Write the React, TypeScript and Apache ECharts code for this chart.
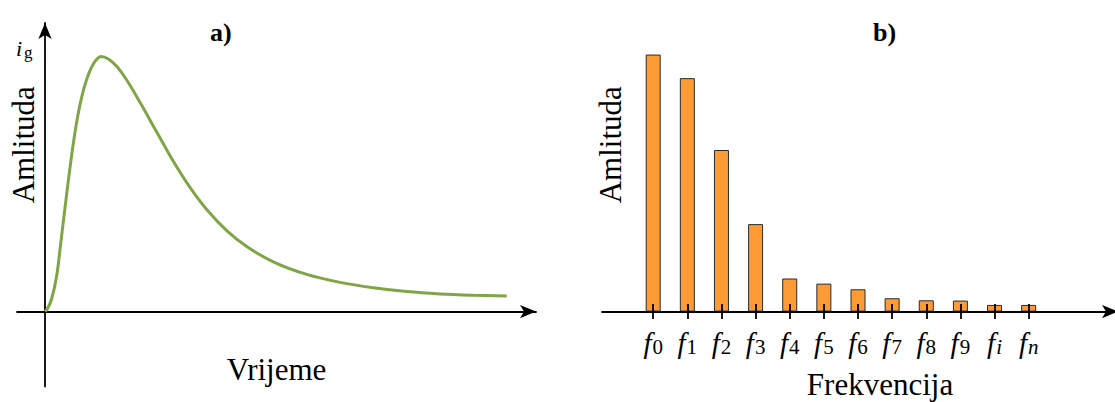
import React, { useEffect, useRef } from 'react';
import * as echarts from 'echarts';

// Panel a) — impulse current (time in arbitrary units, amplitude in % of peak scale)
const timeValues = [0, 0.6, 1.34, 2.34, 3.14, 4.0, 4.86, 5.66, 6.46, 7.34, 8.34, 9.66, 11.2, 12.66, 14.34, 16.34, 19.0, 22.34, 25.66, 29.0, 32.34, 36.34, 40.34, 45.66, 52.34, 59.0, 65.66, 72.34, 79.0, 85.66, 92.34];
const currentValues = [0, 1.5, 5.0, 14.0, 26.5, 40.5, 54.0, 65.5, 75.3, 83.6, 90.5, 96.5, 99.4, 98.5, 95.6, 90.3, 81.6, 70.0, 58.6, 48.4, 39.8, 31.6, 25.4, 19.4, 14.5, 11.4, 9.3, 7.8, 6.9, 6.4, 6.1];

// Panel b) — spectrum
const freqCategories = ['f0', 'f1', 'f2', 'f3', 'f4', 'f5', 'f6', 'f7', 'f8', 'f9', 'fi', 'fn'];
const freqAmplitudes = [100.2, 91.0, 63.0, 34.1, 12.9, 10.9, 8.7, 5.2, 4.4, 4.3, 2.6, 2.6];

const panelTitles = ['a)', 'b)'];
const yAxisName = 'Amlituda';
const timeAxisName = 'Vrijeme';
const freqAxisName = 'Frekvencija';

const serif = "'Liberation Serif', 'Times New Roman', 'DejaVu Serif', serif";
const axisLine = { color: '#000', width: 1.8 };
const arrowSize = [10, 16];

// axis placement inside the grids (where the zero lines cross)
const xAxisLift = -74.9; // bottom x-axes moved up to y = 0
const yAxisShiftLeft = -28; // left y-axis moved right to x = 0
const yAxisShiftRight = -25.7;
const topTickAxisShift = -288.6;

export default function App() {
  const ref = useRef<HTMLDivElement>(null);

  useEffect(() => {
    if (!ref.current) return;
    const chart = echarts.init(ref.current, null, { renderer: 'svg' });

    const axisCats = [' ', ...freqCategories, '  ', '   '];
    const isBlank = (v: string) => String(v).trim() === '';

    const tickCommon = {
      show: true,
      alignWithLabel: true,
      interval: (_i: number, v: string) => !isBlank(v),
      length: 7.5,
      lineStyle: { color: '#000', width: 1.8 },
    };

    const nameStyle = { fontFamily: serif, fontSize: 31, color: '#000' };

    const option: any = {
      animation: false,
      backgroundColor: '#ffffff',
      title: [
        { text: panelTitles[0], left: 210, top: 19, padding: 0, textStyle: { fontFamily: serif, fontWeight: 'bold', fontSize: 26, color: '#000' } },
        { text: panelTitles[1], left: 873, top: 19, padding: 0, textStyle: { fontFamily: serif, fontWeight: 'bold', fontSize: 26, color: '#000' } },
      ],
      grid: [
        { left: 17, top: 23, width: 519, height: 363.5, outerBoundsMode: 'none', containLabel: false },
        { left: 602, top: 23, width: 512, height: 363.5, outerBoundsMode: 'none', containLabel: false },
      ],
      xAxis: [
        {
          gridIndex: 0, type: 'value', min: -5.6, max: 98.2, position: 'bottom', offset: xAxisLift,
          axisLine: { onZero: false, symbol: ['none', 'arrow'], symbolSize: arrowSize, lineStyle: axisLine },
          axisTick: { show: false }, axisLabel: { show: false }, splitLine: { show: false },
          name: timeAxisName, nameLocation: 'middle', nameGap: 42, nameTextStyle: nameStyle,
        },
        {
          gridIndex: 1, type: 'category', data: axisCats, boundaryGap: true, z: 5, position: 'bottom', offset: xAxisLift,
          axisLine: { onZero: false, symbol: ['none', 'arrow'], symbolSize: arrowSize, symbolOffset: [0, 4], lineStyle: axisLine },
          axisTick: tickCommon,
          axisLabel: {
            interval: 0, margin: 17,
            formatter: (v: string) => {
              if (isBlank(v)) return '';
              const sub = v.slice(1);
              return `{f|${v[0]}}{${/\d/.test(sub) ? 'd' : 'n'}|${sub}}`;
            },
            rich: {
              f: { fontFamily: serif, fontStyle: 'italic', fontSize: 29, color: '#000' },
              d: { fontFamily: serif, fontSize: 21, color: '#000', padding: [8, 0, 0, 1] },
              n: { fontFamily: serif, fontStyle: 'italic', fontSize: 21, color: '#000', padding: [8, 0, 0, 1] },
            },
          },
          splitLine: { show: false },
          name: freqAxisName, nameLocation: 'middle', nameGap: 57,
          nameTextStyle: { ...nameStyle, padding: [0, 0, 0, 44] },
        },
        {
          gridIndex: 1, type: 'category', data: axisCats, boundaryGap: true, position: 'top', z: 5, offset: topTickAxisShift,
          axisLine: { show: false, onZero: false },
          axisTick: tickCommon,
          axisLabel: { show: false }, splitLine: { show: false },
        },
      ],
      yAxis: [
        {
          gridIndex: 0, type: 'value', min: -29.2, max: 112.5, position: 'left', offset: yAxisShiftLeft,
          axisLine: { onZero: false, symbol: ['none', 'arrow'], symbolSize: arrowSize, lineStyle: axisLine },
          axisTick: { show: false }, axisLabel: { show: false }, splitLine: { show: false },
          name: yAxisName, nameLocation: 'middle', nameRotate: 90, nameGap: 6,
          nameTextStyle: { ...nameStyle, padding: [0, 0, 0, 120] },
        },
        {
          gridIndex: 1, type: 'value', min: -29.2, max: 112.5, position: 'left', offset: yAxisShiftRight,
          axisLine: { onZero: false, symbol: ['none', 'arrow'], symbolSize: arrowSize, lineStyle: axisLine },
          axisTick: { show: false }, axisLabel: { show: false }, splitLine: { show: false },
          name: yAxisName, nameLocation: 'middle', nameRotate: 90, nameGap: 2,
          nameTextStyle: { ...nameStyle, padding: [0, 0, 0, 120] },
        },
      ],
      graphic: [
        {
          type: 'text', left: 16, top: 37,
          style: {
            text: '{i|i}{g|g}',
            rich: {
              i: { fontFamily: serif, fontStyle: 'italic', fontSize: 22, fill: '#000' },
              g: { fontFamily: serif, fontSize: 17, fill: '#000', padding: [8, 0, 0, 2] },
            },
          },
        },
      ],
      series: [
        {
          type: 'line', xAxisIndex: 0, yAxisIndex: 0,
          data: timeValues.map((t, i) => [t, currentValues[i]]),
          smooth: 0.35, showSymbol: false, symbol: 'none',
          lineStyle: { color: '#80a547', width: 3 },
        },
        {
          type: 'bar', xAxisIndex: 1, yAxisIndex: 1,
          data: freqCategories.map((c, i) => [c, freqAmplitudes[i]]),
          barWidth: 15,
          itemStyle: { color: '#ff9b35', borderColor: '#2a2a2a', borderWidth: 1 },
        },
      ],
    };

    chart.setOption(option);
    return () => chart.dispose();
  }, []);

  return <div ref={ref} style={{ position: 'fixed', left: 0, top: 0, width: 1115, height: 402 }} />;
}
